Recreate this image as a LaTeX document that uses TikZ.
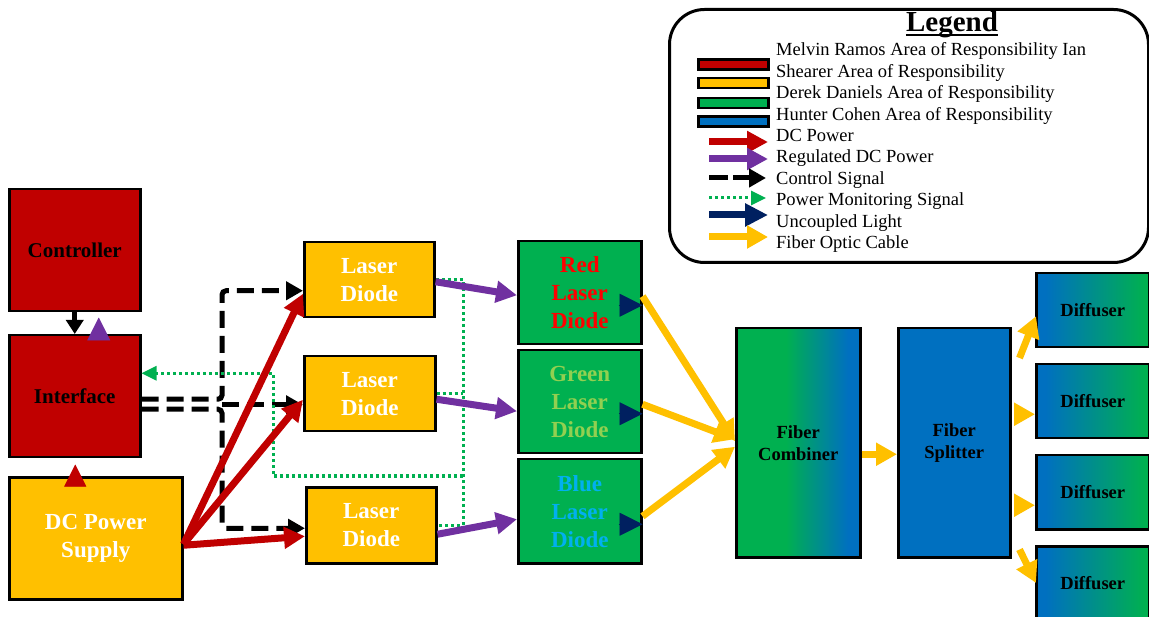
\documentclass[tikz,border=0pt]{standalone}
\usepackage{fontspec}
\setmainfont{Liberation Serif}
\usetikzlibrary{arrows.meta,calc}

% area-of-responsibility and signal colours
\definecolor{aorRed}{HTML}{C00000}
\definecolor{aorYellow}{HTML}{FFC000}
\definecolor{aorGreen}{HTML}{00B050}
\definecolor{aorBlue}{HTML}{0070C0}
\definecolor{pwrPurple}{HTML}{7030A0}
\definecolor{lightNavy}{HTML}{002060}
\definecolor{txtRed}{HTML}{FF0000}
\definecolor{txtGreen}{HTML}{92D050}
\definecolor{txtBlue}{HTML}{00B0F0}

% split-colour fills for shared blocks
\pgfdeclarehorizontalshading{combinerShade}{100bp}{color(0bp)=(aorGreen); color(45bp)=(aorGreen); color(70bp)=(aorBlue); color(100bp)=(aorBlue)}
\pgfdeclarehorizontalshading{diffuserShade}{100bp}{color(0bp)=(aorBlue); color(29bp)=(aorBlue); color(73bp)=(aorGreen); color(100bp)=(aorGreen)}

\tikzset{
  blk/.style={draw=black, line width=2.5pt, inner sep=0pt, anchor=north west, align=center},
  smalltxt/.style={font=\bfseries\fontsize{18.5}{22}\selectfont},
  midtxt/.style={font=\bfseries\fontsize{21}{24}\selectfont},
  bigtxt/.style={font=\bfseries\fontsize{23}{28}\selectfont},
  dcpower/.style={draw=aorRed, line width=7pt, -{Triangle[length=21pt,width=21pt]}},
  regpower/.style={draw=pwrPurple, line width=7pt, -{Triangle[length=21pt,width=21pt]}},
  control/.style={draw=black, line width=5pt, dash pattern=on 17pt off 8pt, rounded corners=4pt, -{Triangle[length=17pt,width=18pt]}},
  monitor/.style={draw=aorGreen, line width=3pt, dash pattern=on 3pt off 3pt},
  monarrow/.style={monitor, -{Triangle[length=15pt,width=14pt]}},
  fiber/.style={draw=aorYellow, line width=7pt, -{Triangle[length=21pt,width=22pt]}},
  uncoupled/.style={draw=lightNavy, line width=7pt, -{Triangle[length=23pt,width=22pt]}},
  headonly/.style={line width=0.5pt, -{Triangle[length=#1,width=#1]}},
  legtxt/.style={anchor=base west, inner sep=0pt, font=\fontsize{18.5}{21}\selectfont},
  legbar/.style={draw=black, line width=2.5pt, minimum width=70pt, minimum height=10pt, inner sep=0pt},
}

\begin{document}
\begin{tikzpicture}[x=1pt,y=-1pt]
\useasboundingbox (0,0) rectangle (1149,617);

% ---------- blocks ----------
\node[blk, fill=aorRed, midtxt, minimum width=131pt, minimum height=122pt] (controller) at (8,188) {Controller};
\node[blk, fill=aorRed, midtxt, minimum width=131pt, minimum height=122pt] (interface) at (8,334) {Interface};
\node[blk, fill=aorYellow, bigtxt, text=white, minimum width=173pt, minimum height=122pt] (supply) at (8,476) {DC Power\\Supply};

\node[blk, fill=aorYellow, bigtxt, text=white, minimum width=130pt, minimum height=75pt] (ld1) at (303,241) {Laser\\Diode};
\node[blk, fill=aorYellow, bigtxt, text=white, minimum width=131pt, minimum height=75pt] (ld2) at (303,355) {Laser\\Diode};
\node[blk, fill=aorYellow, bigtxt, text=white, minimum width=130pt, minimum height=76pt] (ld3) at (305,486) {Laser\\Diode};

\node[blk, fill=aorGreen, bigtxt, text=txtRed, minimum width=123pt, minimum height=103pt] (redLD) at (517,240) {Red\\Laser\\Diode};
\node[blk, fill=aorGreen, bigtxt, text=txtGreen, minimum width=123pt, minimum height=103pt] (greenLD) at (517,349) {Green\\Laser\\Diode};
\node[blk, fill=aorGreen, bigtxt, text=txtBlue, minimum width=123pt, minimum height=104pt] (blueLD) at (517,458) {Blue\\Laser\\Diode};

\node[blk, shading=combinerShade, smalltxt, minimum width=124pt, minimum height=229pt] (combiner) at (735,327) {Fiber\\Combiner};
\node[blk, fill=aorBlue, smalltxt, minimum width=112pt, minimum height=229pt] (splitter) at (897,327) {Fiber\\Splitter};

\node[blk, shading=diffuserShade, smalltxt, minimum width=113pt, minimum height=74pt] (dif1) at (1035,272) {Diffuser};
\node[blk, shading=diffuserShade, smalltxt, minimum width=113pt, minimum height=74pt] (dif2) at (1035,363) {Diffuser};
\node[blk, shading=diffuserShade, smalltxt, minimum width=113pt, minimum height=74pt] (dif3) at (1035,454) {Diffuser};
\node[blk, shading=diffuserShade, smalltxt, minimum width=113pt, minimum height=74pt] (dif4) at (1035,545) {Diffuser};

% ---------- controller / interface / supply links ----------
\draw[draw=black, line width=5pt, -{Triangle[length=14pt,width=17pt]}] (controller.south) -- (interface.north);
\draw[pwrPurple, headonly=23pt] ([xshift=24pt,yshift=-5pt]interface.north) -- ([xshift=24pt,yshift=-5pt]controller.south);
\draw[aorRed, headonly=22pt] ([xshift=-20.5pt,yshift=-9pt]supply.north) -- ([xshift=0.5pt,yshift=-6pt]interface.south);

% ---------- control signals ----------
\coordinate (ctlBus) at (222,0);
\coordinate (ld1cin) at ([yshift=-11pt]ld1.west);
\coordinate (ld2cin) at ([yshift=-11pt]ld2.west);
\coordinate (ld3cin) at ([yshift=-3pt]ld3.west);
\draw[control] ([yshift=-3pt]interface.east) -| (ctlBus |- ld1cin) -- (ld1cin);
\draw[control] ([yshift=-13pt]interface.east) -| (ctlBus |- ld3cin) -- (ld3cin);
\draw[control] (ctlBus |- ld2cin) -- (ld2cin);

% ---------- power monitoring ----------
\coordinate (monBus) at (463,0);
\coordinate (monJoin) at (463,476);
\coordinate (monTurn) at (273,476);
\draw[monitor] (ld1.east) -| (monBus |- ld3.east) -- (ld3.east);
\draw[monitor] (ld2.east) -- (monBus |- ld2.east);
\draw[monarrow] (monJoin) -- (monTurn) |- ([yshift=23pt]interface.east);

% ---------- DC power ----------
\draw[dcpower] ([yshift=-6pt]supply.east) -- ([yshift=-14pt]ld1.west);
\draw[dcpower] ([yshift=-6pt]supply.east) -- ([yshift=-6pt]ld2.west);
\draw[dcpower] ([yshift=-7pt]supply.east) -- ([yshift=-11pt]ld3.west);

% ---------- regulated DC power ----------
\draw[regpower] ([yshift=-2pt]ld1.east) -- ([yshift=-2.5pt]redLD.west);
\draw[regpower] ([yshift=-5.5pt]ld2.east) -- ([yshift=-9.5pt]greenLD.west);
\draw[regpower] ([yshift=-9pt]ld3.east) -- ([yshift=-8pt]blueLD.west);

% ---------- uncoupled light ----------
\draw[lightNavy, headonly=23pt] ([xshift=-24pt,yshift=-12.5pt]redLD.east) -- ([yshift=-12.5pt]redLD.east);
\draw[lightNavy, headonly=23pt] ([xshift=-24pt,yshift=-12pt]greenLD.east) -- ([yshift=-12pt]greenLD.east);
\draw[lightNavy, headonly=23pt] ([xshift=-24pt,yshift=-13pt]blueLD.east) -- ([yshift=-13pt]blueLD.east);

% ---------- fibre optic cable ----------
\draw[fiber] ([yshift=-3.5pt]redLD.east) -- ([yshift=1.5pt]combiner.west);
\draw[fiber] ([yshift=-2.5pt]greenLD.east) -- ([yshift=3.5pt]combiner.west);
\draw[fiber] ([yshift=-5pt]blueLD.east) -- ([yshift=-4pt]combiner.west);
\draw[fiber] ([yshift=-11.5pt]combiner.east) -- ([yshift=-11.5pt]splitter.west);

\coordinate (d2in) at ([yshift=-13pt]dif2.west);
\coordinate (d3in) at ([yshift=-13pt]dif3.west);
\draw[fiber] ([xshift=8pt,yshift=-31pt]splitter.north east) -- ([xshift=1pt,yshift=-6pt]dif1.west);
\draw[fiber] ([xshift=3pt]splitter.east |- d2in) -- (d2in);
\draw[fiber] ([xshift=3pt]splitter.east |- d3in) -- (d3in);
\draw[fiber] ([xshift=8pt,yshift=9pt]splitter.south east) -- ([xshift=1pt,yshift=-38pt]dif4.north west);

% ---------- legend ----------
\node[draw=black, line width=3pt, rounded corners=35pt, minimum width=479pt, minimum height=253pt, anchor=north west, inner sep=0pt] (legend) at (668,8) {};
\node[anchor=base, inner sep=0pt, font=\bfseries\fontsize{29}{33}\selectfont] (legendTitle) at (952,32) {Legend};
\draw[line width=1.6pt] ([yshift=-3pt]legendTitle.base west) -- ([yshift=-3pt]legendTitle.base east);

\node[legbar, fill=aorRed] (barRed) at (733.5,64.5) {};
\node[legbar, fill=aorYellow] (barYellow) at (733.5,83) {};
\node[legbar, fill=aorGreen] (barGreen) at (733.5,103) {};
\node[legbar, fill=aorBlue] (barBlue) at (733.5,121.5) {};

\coordinate (kDCa) at (709,142);  \coordinate (kDCb) at (768,142);
\coordinate (kRGa) at (709,159);  \coordinate (kRGb) at (768,159);
\coordinate (kCSa) at (709,178);  \coordinate (kCSb) at (766,178);
\coordinate (kPMa) at (709,198);  \coordinate (kPMb) at (766,198);
\coordinate (kULa) at (709,215);  \coordinate (kULb) at (768,215);
\coordinate (kFOa) at (709,237);  \coordinate (kFOb) at (768,237);
\draw[dcpower] (kDCa) -- (kDCb);
\draw[regpower] (kRGa) -- (kRGb);
\draw[control, dash pattern=on 19pt off 5pt] (kCSa) -- (kCSb);
\draw[monarrow] (kPMa) -- (kPMb);
\draw[uncoupled] (kULa) -- (kULb);
\draw[fiber] (kFOa) -- (kFOb);

\node[legtxt] (lt1) at (776,56) {Melvin Ramos Area of Responsibility Ian};
\node[legtxt] (lt2) at (776,77.4) {Shearer Area of Responsibility};
\node[legtxt] (lt3) at (776,98.8) {Derek Daniels Area of Responsibility};
\node[legtxt] (lt4) at (776,120.2) {Hunter Cohen Area of Responsibility};
\node[legtxt] (lt5) at (776,141.6) {DC Power};
\node[legtxt] (lt6) at (776,163) {Regulated DC Power};
\node[legtxt] (lt7) at (776,184.4) {Control Signal};
\node[legtxt] (lt8) at (776,205.8) {Power Monitoring Signal};
\node[legtxt] (lt9) at (776,227.2) {Uncoupled Light};
\node[legtxt] (lt10) at (776,248.6) {Fiber Optic Cable};
\end{tikzpicture}
\end{document}
